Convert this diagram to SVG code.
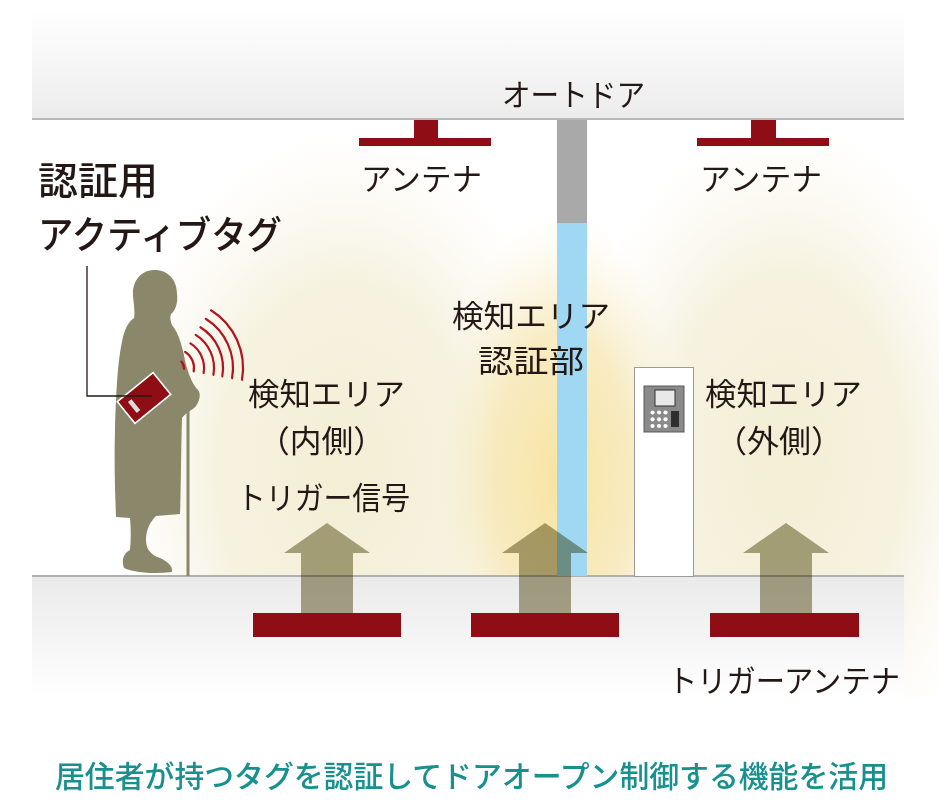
<svg xmlns="http://www.w3.org/2000/svg" width="939" height="812" viewBox="0 0 939 812">
  <defs>
    <style>
      .jp { font-family: "Noto Sans CJK JP", "Noto Sans", sans-serif; fill: #231815; }
      .lbl { font-size: 31px; font-weight: 400; }
      .title { font-size: 38px; font-weight: 500; }
      .caption { font-family: "Noto Sans CJK JP", "Noto Sans", sans-serif; font-size: 30px; font-weight: 500; fill: #17908e; }
      .bar { fill: #8f0e16; }
      .arrow { fill: #aaa78a; mix-blend-mode: multiply; }
      .wave { fill: none; stroke: #b3141e; stroke-width: 2.2; stroke-linecap: round; }
    </style>
    <linearGradient id="ceilGrad" x1="0" y1="0" x2="0" y2="1">
      <stop offset="0" stop-color="#ffffff"/>
      <stop offset="1" stop-color="#ececec"/>
    </linearGradient>
    <linearGradient id="floorGrad" x1="0" y1="0" x2="0" y2="1">
      <stop offset="0" stop-color="#eaeaea"/>
      <stop offset="1" stop-color="#ffffff"/>
    </linearGradient>
    <radialGradient id="glowSide">
      <stop offset="0" stop-color="#f3eed4" stop-opacity="1"/>
      <stop offset="0.55" stop-color="#f4f0da" stop-opacity="0.85"/>
      <stop offset="1" stop-color="#f7f4e6" stop-opacity="0"/>
    </radialGradient>
    <radialGradient id="glowMid">
      <stop offset="0" stop-color="#f7e3a0" stop-opacity="1"/>
      <stop offset="0.55" stop-color="#f7e6b0" stop-opacity="0.75"/>
      <stop offset="1" stop-color="#f8efd0" stop-opacity="0"/>
    </radialGradient>
    <clipPath id="roomClip">
      <rect x="0" y="0" width="939" height="697"/>
    </clipPath>
  </defs>

  <!-- page -->
  <rect x="0" y="0" width="939" height="812" fill="#ffffff"/>

  <!-- detection glows -->
  <g id="glows" clip-path="url(#roomClip)">
    <ellipse cx="345" cy="470" rx="230" ry="340" fill="url(#glowSide)"/>
    <ellipse cx="785" cy="460" rx="215" ry="340" fill="url(#glowSide)"/>
    <ellipse cx="562" cy="480" rx="125" ry="270" fill="url(#glowMid)"/>
  </g>

  <!-- ceiling and floor -->
  <g id="ceiling">
    <rect x="32" y="10" width="872" height="109" fill="url(#ceilGrad)"/>
    <rect x="32" y="118" width="872" height="2" fill="#b8b8b8"/>
  </g>
  <g id="floor">
    <rect x="32" y="577" width="872" height="120" fill="url(#floorGrad)"/>
    <rect x="32" y="575" width="872" height="2" fill="#b0b0b0"/>
  </g>

  <!-- automatic door -->
  <g id="door">
    <rect x="557" y="120" width="30" height="103" fill="#a9a9a9"/>
    <rect x="557" y="223" width="30" height="353" fill="#a0d7f3"/>
  </g>

  <!-- ceiling antennas -->
  <g id="antenna-left">
    <rect class="bar" x="414" y="120" width="24" height="19"/>
    <rect class="bar" x="359" y="138" width="132" height="8"/>
  </g>
  <g id="antenna-right">
    <rect class="bar" x="751" y="120" width="25" height="19"/>
    <rect class="bar" x="697" y="138" width="132" height="8"/>
  </g>

  <!-- reader panel -->
  <g id="reader">
    <rect x="634.5" y="367.5" width="59" height="209" fill="#ffffff" stroke="#9a9a9a" stroke-width="1"/>
    <rect x="644" y="386" width="40" height="46" fill="#8a8a8a" stroke="#5a5a5a" stroke-width="1"/>
    <rect x="655" y="390" width="20" height="16" fill="#e8e8e8" stroke="#333" stroke-width="1"/>
    <g fill="#ffffff">
      <circle cx="652.5" cy="412.5" r="2.1"/><circle cx="659" cy="412.5" r="2.1"/><circle cx="665.5" cy="412.5" r="2.1"/>
      <circle cx="652.5" cy="419.3" r="2.1"/><circle cx="659" cy="419.3" r="2.1"/><circle cx="665.5" cy="419.3" r="2.1"/>
      <circle cx="652.5" cy="426" r="2.1"/><circle cx="659" cy="426" r="2.1"/><circle cx="665.5" cy="426" r="2.1"/>
    </g>
    <rect x="671" y="411" width="8" height="16" fill="#2e2e2e"/>
  </g>

  <!-- trigger arrows -->
  <g id="connectors">
    <path class="arrow" d="M327,523 L370,553 L353,553 L353,613 L301,613 L301,553 L284,553 Z"/>
    <path class="arrow" d="M545,523 L588,553 L571,553 L571,613 L519,613 L519,553 L502,553 Z"/>
    <path class="arrow" d="M786,523 L829,553 L812,553 L812,613 L760,613 L760,553 L743,553 Z"/>
  </g>

  <!-- trigger antennas -->
  <g id="trigger-antennas">
    <rect class="bar" x="253" y="613" width="148" height="24"/>
    <rect class="bar" x="471" y="613" width="148" height="24"/>
    <rect class="bar" x="710" y="613" width="149" height="24"/>
  </g>

  <!-- resident with cane -->
  <g id="resident">
    <rect x="186.5" y="400" width="3" height="176" fill="#8a876a"/>
    <path fill="#8a876a" d="M155,270 C140,270 132,282 133,296 C134,306 135,312 134,318 C128,322 124,330 122,342 C118,360 116,390 115,430 C114,460 115,490 116,517 L130,518 C131,530 131,540 130,550 C124,553 121,560 124,568 C135,573 155,574 172,572 C173,566 168,562 160,558 C150,555 146,548 146,540 C146,530 150,522 156,516 L180,514 C181,490 181,450 182,418 C186,412 193,410 196,406 C200,400 201,394 198,390 C193,385 190,378 186,365 C183,350 180,335 172,325 C170,320 170,317 171,314 C176,310 178,302 177,294 C177,280 168,270 155,270 Z"/>
  </g>

  <!-- radio waves -->
  <g id="waves">
    <path class="wave" d="M181.4,361.6 A9,9 0 0 1 184,368.8"/>
    <path class="wave" d="M185.1,351.9 A19,19 0 0 1 193.7,371.3"/>
    <path class="wave" d="M190.4,343.4 A29,29 0 0 1 203.6,373.0"/>
    <path class="wave" d="M195.7,334.9 A39,39 0 0 1 213.4,374.8"/>
    <path class="wave" d="M200.4,327.3 A48,48 0 0 1 222.3,376.4"/>
    <path class="wave" d="M205.7,318.8 A58,58 0 0 1 232.1,378.1"/>
    <path class="wave" d="M211.0,310.3 A68,68 0 0 1 242.0,379.8"/>
  </g>

  <!-- active tag -->
  <g id="tag">
    <g transform="translate(144,398) rotate(-39)">
      <rect x="-23" y="-14" width="46" height="28" fill="#8f0e16" stroke="#ffffff" stroke-width="1.6"/>
      <rect x="-15" y="-7" width="4.5" height="14" fill="#dcdcdc"/>
    </g>
  </g>

  <!-- tag label with leader -->
  <g id="tag-label">
    <polyline points="87,266 87,396 152,396" fill="none" stroke="#231815" stroke-width="1.3"/>
    <text class="jp title" x="38" y="194" textLength="120" lengthAdjust="spacingAndGlyphs">認証用</text>
    <text class="jp title" x="38" y="248" textLength="244" lengthAdjust="spacingAndGlyphs">アクティブタグ</text>
  </g>

  <!-- labels -->
  <g id="label-door">
    <text class="jp lbl" x="502" y="106" textLength="143" lengthAdjust="spacingAndGlyphs">オートドア</text>
  </g>
  <g id="label-antenna-left">
    <text class="jp lbl" x="361" y="190" textLength="121" lengthAdjust="spacingAndGlyphs">アンテナ</text>
  </g>
  <g id="label-antenna-right">
    <text class="jp lbl" x="700" y="190" textLength="122" lengthAdjust="spacingAndGlyphs">アンテナ</text>
  </g>
  <g id="label-inner">
    <text class="jp lbl" x="248" y="405" textLength="157" lengthAdjust="spacingAndGlyphs">検知エリア</text>
    <text class="jp lbl" x="258" y="452" textLength="127" lengthAdjust="spacingAndGlyphs">（内側）</text>
    <text class="jp lbl" x="237" y="509" textLength="173" lengthAdjust="spacingAndGlyphs">トリガー信号</text>
  </g>
  <g id="label-auth">
    <text class="jp lbl" x="452" y="327" textLength="158" lengthAdjust="spacingAndGlyphs">検知エリア</text>
    <text class="jp lbl" x="478" y="372" textLength="106" lengthAdjust="spacingAndGlyphs">認証部</text>
  </g>
  <g id="label-outer">
    <text class="jp lbl" x="705" y="405" textLength="157" lengthAdjust="spacingAndGlyphs">検知エリア</text>
    <text class="jp lbl" x="715" y="452" textLength="128" lengthAdjust="spacingAndGlyphs">（外側）</text>
  </g>
  <g id="label-trigger-antenna">
    <text class="jp lbl" x="668" y="692" textLength="232" lengthAdjust="spacingAndGlyphs">トリガーアンテナ</text>
  </g>

  <!-- caption -->
  <text class="caption" x="55" y="787" textLength="833" lengthAdjust="spacingAndGlyphs">居住者が持つタグを認証してドアオープン制御する機能を活用</text>
</svg>
